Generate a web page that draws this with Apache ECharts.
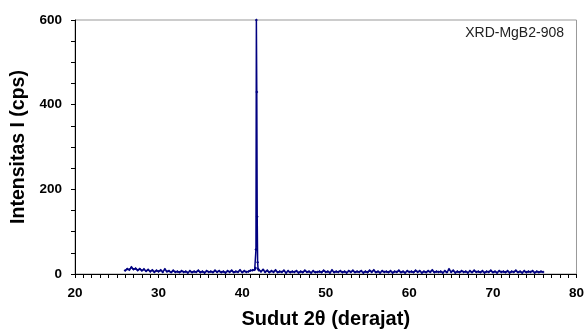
<!DOCTYPE html>
<html>
<head>
<meta charset="utf-8">
<script src="https://cdn.jsdelivr.net/npm/echarts@6/dist/echarts.min.js"></script>
<style>html,body{margin:0;padding:0;background:#fff}#c{width:587px;height:335px}</style>
</head>
<body>
<div id="c"></div>
<script>
// 2θ scan, background before the peak: 26.00° .. 41.50°, step 0.25°
var scan1Start = 26.0, scan1Step = 0.25;
var scan1Counts = [8,12,10,16,11,13,9,12,8,11, 7,10,6,9,5,8,6,9,5,11, 6,7,4,8,5,6,4,7,5,6,
  3,7,4,6,5,8,4,6,3,7, 5,6,4,8,5,7,4,6,3,7, 5,8,4,6,5,9,4,7,5,6, 8,9,10];
// MgB2 peak region (2θ, counts)
var peakAngles = [41.6, 41.65, 41.7, 41.75, 41.8, 41.85, 41.9];
var peakCounts = [14, 58, 600, 430, 135, 28, 12];
// background after the peak: 42.00° .. 76.00°, step 0.25°
var scan2Start = 42.0, scan2Step = 0.25;
var scan2Counts = [9,6,10,5,8,4,7,5,9,4, 6,5,8,3,7,4,6,5,7,3, 6,4,8,5,6,3,7,4,5,6,
  4,8,5,6,3,9,4,6,5,7, 4,6,3,7,5,8,4,6,5,7, 3,6,4,8,5,9,4,6,3,7,
  5,6,4,7,3,6,5,8,4,6, 3,7,5,6,4,8,5,7,3,6, 4,7,5,9,4,6,5,6,3,7,
  4,11,5,8,3,6,4,7,5,6, 3,7,4,8,5,6,4,7,3,6, 5,8,4,6,3,7,5,6,4,7,
  3,6,5,8,4,6,3,7,4,6, 5,7,3,6,4,6,5];
var xTicks = [20, 30, 40, 50, 60, 70, 80];
var yTicks = [0, 200, 400, 600];
var sampleLabel = 'XRD-MgB2-908';
var xTitle = 'Sudut 2\u03b8 (derajat)';
var yTitle = 'Intensitas I (cps)';

var data = [];
scan1Counts.forEach(function (v, i) { data.push([scan1Start + i * scan1Step, v]); });
peakAngles.forEach(function (a, i) { data.push([a, peakCounts[i]]); });
scan2Counts.forEach(function (v, i) { data.push([scan2Start + i * scan2Step, v]); });

var chart = echarts.init(document.getElementById('c'));
var font = '"Liberation Sans", Arial, sans-serif';
chart.setOption({
  animation: false,
  backgroundColor: '#fff',
  grid: { left: 75, right: 7, top: 20, bottom: 61, show: true, borderColor: '#999', borderWidth: 1, backgroundColor: 'transparent' },
  xAxis: {
    type: 'value', min: xTicks[0], max: xTicks[xTicks.length - 1], interval: 10,
    name: xTitle, nameLocation: 'middle', nameGap: 35,
    nameTextStyle: { fontFamily: font, fontWeight: 'bold', fontSize: 20, color: '#000' },
    axisLine: { show: true, onZero: false, lineStyle: { color: '#000', width: 1 } },
    axisTick: { show: true, inside: false, length: 4, lineStyle: { color: '#000' } },
    minorTick: { show: true, splitNumber: 10, length: 4, lineStyle: { color: '#000' } },
    axisLabel: { fontFamily: font, fontWeight: 'bold', fontSize: 13.5, color: '#000', margin: 12 },
    splitLine: { show: false }
  },
  yAxis: {
    type: 'value', min: yTicks[0], max: yTicks[yTicks.length - 1], interval: 200,
    name: yTitle, nameLocation: 'middle', nameGap: 46,
    nameTextStyle: { fontFamily: font, fontWeight: 'bold', fontSize: 19.5, color: '#000' },
    axisLine: { show: true, lineStyle: { color: '#000', width: 1 } },
    axisTick: { show: true, inside: false, length: 4, lineStyle: { color: '#000' } },
    minorTick: { show: true, splitNumber: 4, length: 4, lineStyle: { color: '#000' } },
    axisLabel: { fontFamily: font, fontWeight: 'bold', fontSize: 13.5, color: '#000', margin: 13 },
    splitLine: { show: false }
  },
  graphic: [{
    type: 'text', right: 23, top: 26,
    style: { text: sampleLabel, fontFamily: font, fontSize: 14, fill: '#222' }
  }],
  series: [{
    type: 'line', data: data,
    symbol: 'diamond', symbolSize: 3, showSymbol: true,
    itemStyle: { color: '#000080' },
    lineStyle: { color: '#000080', width: 1.5 },
    clip: true
  }]
});
</script>
</body>
</html>
